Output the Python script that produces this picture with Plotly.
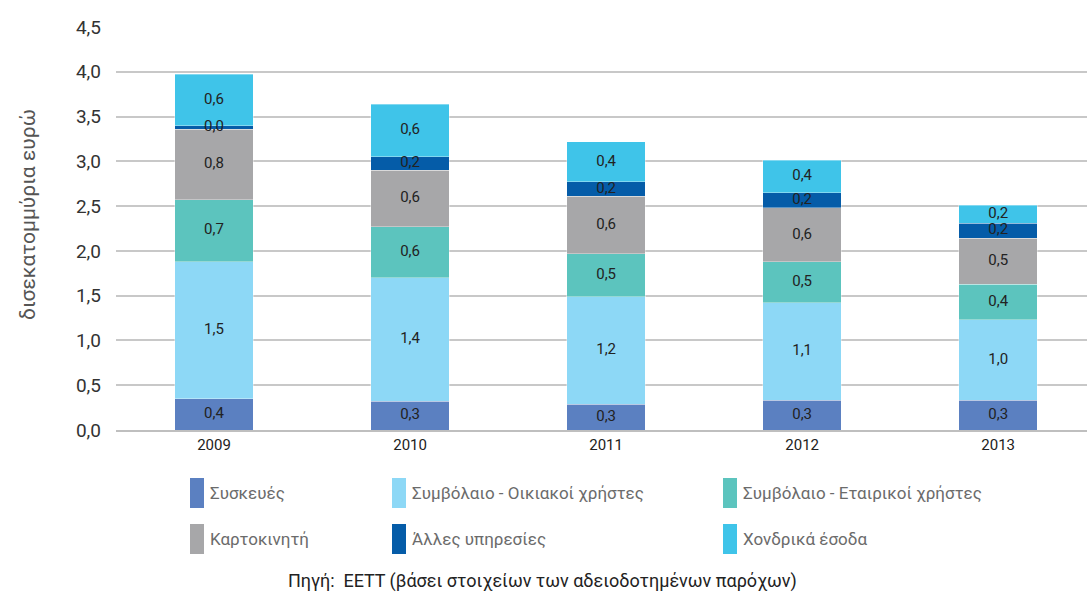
import plotly.graph_objects as go

years = ["2009", "2010", "2011", "2012", "2013"]

series_names = [
    "Συσκευές",
    "Συμβόλαιο - Οικιακοί χρήστες",
    "Συμβόλαιο - Εταιρικοί χρήστες",
    "Καρτοκινητή",
    "Άλλες υπηρεσίες",
    "Χονδρικά έσοδα",
]
series_colors = ["#5B80C1", "#8DD8F6", "#5CC4BE", "#A7A7A9", "#055CA8", "#3FC4E9"]

syskeves = [0.35, 0.32, 0.29, 0.33, 0.33]
oikiakoi = [1.53, 1.38, 1.20, 1.09, 0.90]
etairikoi = [0.69, 0.57, 0.48, 0.46, 0.40]
kartokiniti = [0.79, 0.63, 0.64, 0.60, 0.51]
alles = [0.04, 0.15, 0.16, 0.17, 0.17]
xondrika = [0.57, 0.59, 0.45, 0.36, 0.20]

syskeves_lbl = ["0,4", "0,3", "0,3", "0,3", "0,3"]
oikiakoi_lbl = ["1,5", "1,4", "1,2", "1,1", "1,0"]
etairikoi_lbl = ["0,7", "0,6", "0,5", "0,5", "0,4"]
kartokiniti_lbl = ["0,8", "0,6", "0,6", "0,6", "0,5"]
alles_lbl = ["0,0", "0,2", "0,2", "0,2", "0,2"]
xondrika_lbl = ["0,6", "0,6", "0,4", "0,4", "0,2"]

series_values = [syskeves, oikiakoi, etairikoi, kartokiniti, alles, xondrika]
series_labels = [syskeves_lbl, oikiakoi_lbl, etairikoi_lbl, kartokiniti_lbl, alles_lbl, xondrika_lbl]

y_title = "δισεκατομμύρια ευρώ"
source_text = "Πηγή:  ΕΕΤΤ (βάσει στοιχείων των αδειοδοτημένων παρόχων)"

W, H = 1087, 594
L, R, T, B = 116, 0, 27, 164
FONT = "Roboto"


def px(x):
    return (x - L) / (W - L - R)


def py(y):
    return (H - B - y) / (H - B - T)


fig = go.Figure()
for name, color, vals in zip(series_names, series_colors, series_values):
    fig.add_trace(go.Bar(
        x=years, y=vals, name=name,
        marker=dict(color=color, line=dict(color="rgba(255,255,255,0.35)", width=1)),
        width=0.4, showlegend=False, hoverinfo="name+y",
    ))

# segment labels drawn on top of all bars, at the middle of each stacked segment
lbl_x, lbl_y, lbl_t = [], [], []
base = [0.0] * len(years)
for vals, lbls in zip(series_values, series_labels):
    for i, (v, t) in enumerate(zip(vals, lbls)):
        lbl_x.append(years[i])
        lbl_y.append(base[i] + v / 2)
        lbl_t.append(t)
        base[i] += v
fig.add_trace(go.Scatter(
    x=lbl_x, y=lbl_y, text=lbl_t, mode="text", textposition="middle center",
    textfont=dict(family=FONT, size=15, color="#222222"),
    showlegend=False, hoverinfo="skip", cliponaxis=False,
))

# custom legend (tall swatches)
legend_cols = [190, 392, 723]
legend_rows = [493, 539]
for i, (name, color) in enumerate(zip(series_names, series_colors)):
    cx = legend_cols[i % 3]
    cy = legend_rows[i // 3]
    fig.add_shape(type="rect", xref="paper", yref="paper",
                  x0=px(cx), x1=px(cx + 14), y0=py(cy - 15), y1=py(cy + 15),
                  fillcolor=color, line=dict(width=0))
    fig.add_annotation(xref="paper", yref="paper", x=px(cx + 18), y=py(cy),
                       text=name, showarrow=False, xanchor="left", yanchor="middle",
                       font=dict(family=FONT, size=17, color="#6b6b6b"))

fig.add_annotation(xref="paper", yref="paper", x=px(28), y=py(215),
                   text=y_title, textangle=-90, showarrow=False,
                   xanchor="center", yanchor="middle",
                   font=dict(family=FONT, size=21, color="#555555"))

fig.add_annotation(xref="paper", yref="paper", x=px(542), y=py(581),
                   text=source_text, showarrow=False,
                   xanchor="center", yanchor="middle",
                   font=dict(family=FONT, size=18, color="#222222"))

fig.update_layout(
    width=W, height=H,
    margin=dict(l=L, r=R, t=T, b=B, pad=0),
    barmode="stack",
    plot_bgcolor="white", paper_bgcolor="white",
    separators=",.",
    font=dict(family=FONT),
)
fig.update_xaxes(
    range=[-0.5, 4.453], showgrid=False, showline=True,
    linecolor="#BFBFBF", linewidth=2, ticks="",
    tickfont=dict(family=FONT, size=15, color="#222222"),
)
fig.update_yaxes(
    range=[0, 4.5], dtick=0.5, tick0=0, tickformat=".1f",
    showgrid=True, gridcolor="#C8C8C8", gridwidth=2,
    zeroline=False, showline=False, ticks="",
    ticklabelstandoff=14,
    tickfont=dict(family=FONT, size=19, color="#333333"),
)

fig.write_html("out.html")
